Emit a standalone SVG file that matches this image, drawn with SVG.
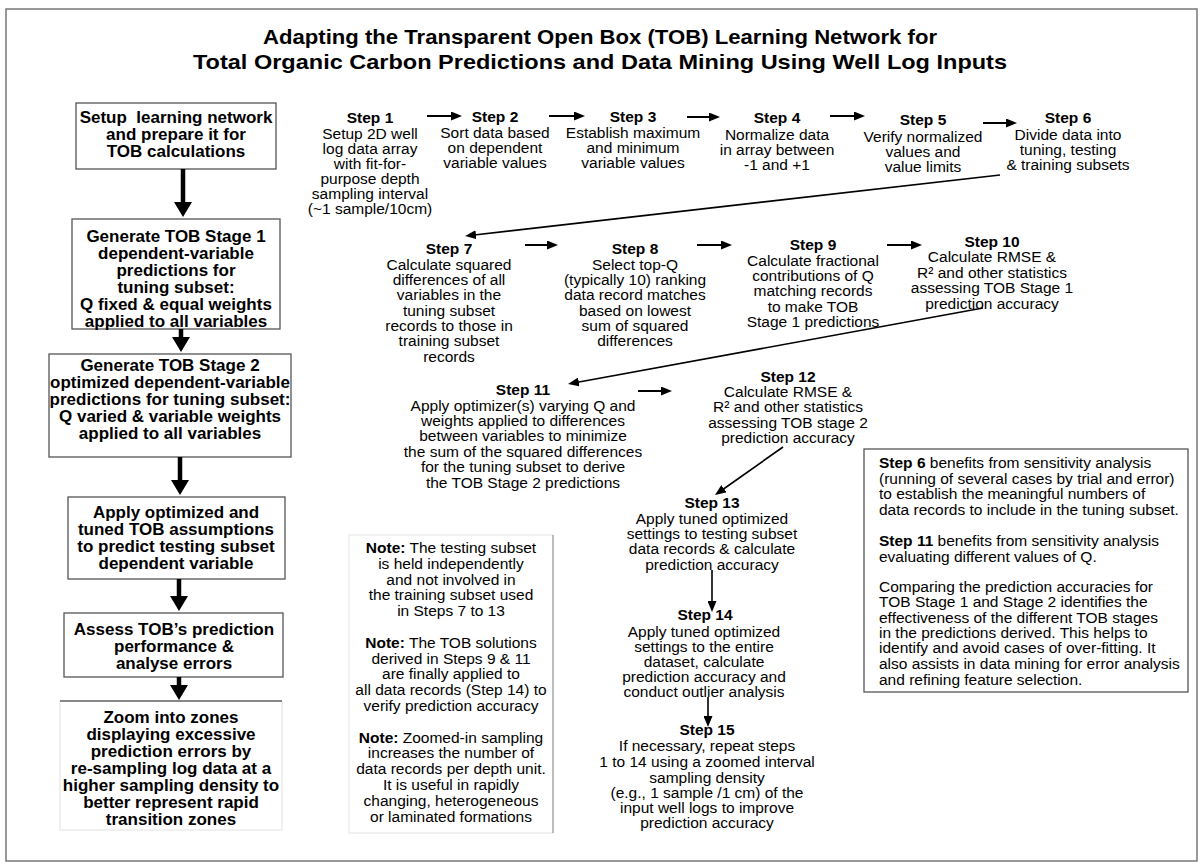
<svg xmlns="http://www.w3.org/2000/svg" width="1202" height="867" viewBox="0 0 1202 867">
<style>
.frame{fill:#fff;stroke:#777;stroke-width:1.5}
.box{fill:#fff;stroke:#555;stroke-width:1.3}
.t{font-family:"Liberation Sans",Arial,sans-serif;fill:#000}
.ttl{font-size:21px;font-weight:bold;text-anchor:middle}
.bt{font-size:17px;font-weight:bold;text-anchor:middle}
.st{font-size:15.5px;text-anchor:middle}
.sh{font-weight:bold}
.rt{font-size:15.5px}
.arr{stroke:#000;stroke-width:2;fill:none;marker-end:url(#ah)}
.diag{stroke:#000;stroke-width:1.6;fill:none;marker-end:url(#ah)}
.big{stroke:#000;stroke-width:4.5;fill:none;marker-end:url(#bh)}
</style>
<defs>
<marker id="ah" markerUnits="userSpaceOnUse" markerWidth="11" markerHeight="9" refX="4" refY="4.5" orient="auto"><path d="M0,0 L11,4.5 L0,9 z" fill="#000"/></marker>
<marker id="bh" markerUnits="userSpaceOnUse" markerWidth="15" markerHeight="18" refX="5" refY="9" orient="auto"><path d="M0,0 L15,9 L0,18 z" fill="#000"/></marker>
</defs>
<rect x="0" y="0" width="1202" height="867" fill="#fff"/>
<rect class="frame" x="6" y="9" width="1191" height="852"/>
<g id="title" class="t ttl">
<text x="600" y="44" textLength="674" lengthAdjust="spacingAndGlyphs">Adapting the Transparent Open Box (TOB) Learning Network for</text>
<text x="600" y="69" textLength="814" lengthAdjust="spacingAndGlyphs">Total Organic Carbon Predictions and Data Mining Using Well Log Inputs</text>
</g>

<g id="box1"><rect class="box" x="76" y="103" width="200" height="66"/>
<text class="t bt" xml:space="preserve"><tspan x="176" y="123">Setup  learning network</tspan><tspan x="176" y="140">and prepare it for</tspan><tspan x="176" y="157">TOB calculations</tspan></text></g>
<g id="box2"><rect class="box" x="72" y="219" width="208" height="110"/>
<text class="t bt"><tspan x="176" y="242">Generate TOB Stage 1</tspan><tspan x="176" y="259">dependent-variable</tspan><tspan x="176" y="276">predictions for</tspan><tspan x="176" y="293">tuning subset:</tspan><tspan x="176" y="310">Q fixed &amp; equal weights</tspan><tspan x="176" y="327">applied to all variables</tspan></text></g>
<g id="box3"><rect class="box" x="49" y="354" width="242" height="103"/>
<text class="t bt"><tspan x="170" y="371">Generate TOB Stage 2</tspan><tspan x="170" y="388">optimized dependent-variable</tspan><tspan x="170" y="405">predictions for tuning subset:</tspan><tspan x="170" y="422">Q varied &amp; variable weights</tspan><tspan x="170" y="439">applied to all variables</tspan></text></g>
<g id="box4"><rect class="box" x="68" y="497" width="217" height="82"/>
<text class="t bt"><tspan x="176" y="518">Apply optimized and</tspan><tspan x="176" y="535">tuned TOB assumptions</tspan><tspan x="176" y="552">to predict testing subset</tspan><tspan x="176" y="569">dependent variable</tspan></text></g>
<g id="box5"><rect class="box" x="64" y="613" width="219" height="64"/>
<text class="t bt"><tspan x="174" y="635">Assess TOB’s prediction</tspan><tspan x="174" y="652">performance &amp;</tspan><tspan x="174" y="669">analyse errors</tspan></text></g>
<g id="box6"><rect x="60" y="701" width="222" height="129" fill="#fff" stroke="#e2e2e2" stroke-width="1"/><line x1="60" y1="701" x2="282" y2="701" stroke="#666" stroke-width="1.3"/>
<text class="t bt"><tspan x="171" y="723">Zoom into zones</tspan><tspan x="171" y="740">displaying excessive</tspan><tspan x="171" y="757">prediction errors by</tspan><tspan x="171" y="774">re-sampling log data at a</tspan><tspan x="171" y="791">higher sampling density to</tspan><tspan x="171" y="808">better represent rapid</tspan><tspan x="171" y="825">transition zones</tspan></text></g>

<g id="step1"><text class="t st"><tspan class="sh" x="370" y="123">Step 1</tspan><tspan x="370" y="139">Setup 2D well</tspan><tspan x="370" y="154">log data array</tspan><tspan x="370" y="169">with fit-for-</tspan><tspan x="370" y="184">purpose depth</tspan><tspan x="370" y="199">sampling interval</tspan><tspan x="370" y="214">(~1 sample/10cm)</tspan></text></g>
<g id="step2"><text class="t st"><tspan class="sh" x="495" y="122">Step 2</tspan><tspan x="495" y="138">Sort data based</tspan><tspan x="495" y="153">on dependent</tspan><tspan x="495" y="168">variable values</tspan></text></g>
<g id="step3"><text class="t st"><tspan class="sh" x="633" y="122">Step 3</tspan><tspan x="633" y="138">Establish maximum</tspan><tspan x="633" y="153">and minimum</tspan><tspan x="633" y="168">variable values</tspan></text></g>
<g id="step4"><text class="t st"><tspan class="sh" x="777" y="123">Step 4</tspan><tspan x="777" y="140">Normalize data</tspan><tspan x="777" y="155">in array between</tspan><tspan x="777" y="170">-1 and +1</tspan></text></g>
<g id="step5"><text class="t st"><tspan class="sh" x="923" y="125">Step 5</tspan><tspan x="923" y="142">Verify normalized</tspan><tspan x="923" y="157">values and</tspan><tspan x="923" y="172">value limits</tspan></text></g>
<g id="step6"><text class="t st"><tspan class="sh" x="1068" y="123">Step 6</tspan><tspan x="1068" y="140">Divide data into</tspan><tspan x="1068" y="155">tuning, testing</tspan><tspan x="1068" y="170">&amp; training subsets</tspan></text></g>

<g id="step7"><text class="t st"><tspan class="sh" x="449" y="254">Step 7</tspan><tspan x="449" y="270">Calculate squared</tspan><tspan x="449" y="285">differences of all</tspan><tspan x="449" y="300">variables in the</tspan><tspan x="449" y="316">tuning subset</tspan><tspan x="449" y="331">records to those in</tspan><tspan x="449" y="346">training subset</tspan><tspan x="449" y="362">records</tspan></text></g>
<g id="step8"><text class="t st"><tspan class="sh" x="635" y="254">Step 8</tspan><tspan x="635" y="270">Select top-Q</tspan><tspan x="635" y="285">(typically 10) ranking</tspan><tspan x="635" y="300">data record matches</tspan><tspan x="635" y="316">based on lowest</tspan><tspan x="635" y="331">sum of squared</tspan><tspan x="635" y="346">differences</tspan></text></g>
<g id="step9"><text class="t st"><tspan class="sh" x="813" y="250">Step 9</tspan><tspan x="813" y="266">Calculate fractional</tspan><tspan x="813" y="281">contributions of Q</tspan><tspan x="813" y="296">matching records</tspan><tspan x="813" y="312">to make TOB</tspan><tspan x="813" y="327">Stage 1 predictions</tspan></text></g>
<g id="step10"><text class="t st"><tspan class="sh" x="992" y="247">Step 10</tspan><tspan x="992" y="262">Calculate RMSE &amp;</tspan><tspan x="992" y="278">R² and other statistics</tspan><tspan x="992" y="293">assessing TOB Stage 1</tspan><tspan x="992" y="309">prediction accuracy</tspan></text></g>

<g id="step11"><text class="t st"><tspan class="sh" x="523" y="395">Step 11</tspan><tspan x="523" y="411">Apply optimizer(s) varying Q and</tspan><tspan x="523" y="426">weights applied to differences</tspan><tspan x="523" y="441">between variables to minimize</tspan><tspan x="523" y="457">the sum of the squared differences</tspan><tspan x="523" y="472">for the tuning subset to derive</tspan><tspan x="523" y="488">the TOB Stage 2 predictions</tspan></text></g>
<g id="step12"><text class="t st"><tspan class="sh" x="788" y="382">Step 12</tspan><tspan x="788" y="397">Calculate RMSE &amp;</tspan><tspan x="788" y="412">R² and other statistics</tspan><tspan x="788" y="428">assessing TOB stage 2</tspan><tspan x="788" y="443">prediction accuracy</tspan></text></g>
<g id="step13"><text class="t st"><tspan class="sh" x="712" y="508">Step 13</tspan><tspan x="712" y="524">Apply tuned optimized</tspan><tspan x="712" y="539">settings to testing subset</tspan><tspan x="712" y="554">data records &amp; calculate</tspan><tspan x="712" y="570">prediction accuracy</tspan></text></g>
<g id="step14"><text class="t st"><tspan class="sh" x="705" y="620">Step 14</tspan><tspan x="704" y="637">Apply tuned optimized</tspan><tspan x="704" y="652">settings to the entire</tspan><tspan x="704" y="667">dataset, calculate</tspan><tspan x="704" y="682">prediction accuracy and</tspan><tspan x="704" y="697">conduct outlier analysis</tspan></text></g>
<g id="step15"><text class="t st"><tspan class="sh" x="707" y="735">Step 15</tspan><tspan x="707" y="751">If necessary, repeat steps</tspan><tspan x="707" y="767">1 to 14 using a zoomed interval</tspan><tspan x="707" y="783">sampling density</tspan><tspan x="707" y="798">(e.g., 1 sample /1 cm) of the</tspan><tspan x="707" y="813">input well logs to improve</tspan><tspan x="707" y="828">prediction accuracy</tspan></text></g>

<g id="notes"><rect x="349" y="535" width="204" height="298" fill="#fff" stroke="#e4e4e4" stroke-width="1"/><line x1="553" y1="535" x2="553" y2="833" stroke="#999" stroke-width="1.2"/>
<text class="t st"><tspan x="451" y="553"><tspan class="sh">Note:</tspan> The testing subset</tspan><tspan x="451" y="569">is held independently</tspan><tspan x="451" y="585">and not involved in</tspan><tspan x="451" y="600">the training subset used</tspan><tspan x="451" y="616">in Steps 7 to 13</tspan><tspan x="451" y="648"><tspan class="sh">Note:</tspan> The TOB solutions</tspan><tspan x="451" y="664">derived in Steps 9 &amp; 11</tspan><tspan x="451" y="679">are finally applied to</tspan><tspan x="451" y="695">all data records (Step 14) to</tspan><tspan x="451" y="711">verify prediction accuracy</tspan><tspan x="451" y="743"><tspan class="sh">Note:</tspan> Zoomed-in sampling</tspan><tspan x="451" y="758">increases the number of</tspan><tspan x="451" y="774">data records per depth unit.</tspan><tspan x="451" y="790">It is useful in rapidly</tspan><tspan x="451" y="806">changing, heterogeneous</tspan><tspan x="451" y="822">or laminated formations</tspan></text></g>

<g id="sidebox"><rect class="box" x="864" y="449" width="324" height="243" stroke="#666"/>
<text class="t rt"><tspan x="879" y="468"><tspan class="sh">Step 6</tspan> benefits from sensitivity analysis</tspan><tspan x="879" y="484">(running of several cases by trial and error)</tspan><tspan x="879" y="499">to establish the meaningful numbers of</tspan><tspan x="879" y="515">data records to include in the tuning subset.</tspan><tspan x="879" y="546"><tspan class="sh">Step 11</tspan> benefits from sensitivity analysis</tspan><tspan x="879" y="562">evaluating different values of Q.</tspan><tspan x="879" y="592">Comparing the prediction accuracies for</tspan><tspan x="879" y="607">TOB Stage 1 and Stage 2 identifies the</tspan><tspan x="879" y="623">effectiveness of the different TOB stages</tspan><tspan x="879" y="638">in the predictions derived. This helps to</tspan><tspan x="879" y="653">identify and avoid cases of over-fitting. It</tspan><tspan x="879" y="669">also assists in data mining for error analysis</tspan><tspan x="879" y="685">and refining feature selection.</tspan></text></g>

<g id="connectors">
<path class="big" d="M183,169 L183,207"/>
<path class="big" d="M181,329 L181,342"/>
<path class="big" d="M180,457 L180,485"/>
<path class="big" d="M179,579 L179,601"/>
<path class="big" d="M179,677 L179,690"/>
<path class="arr" d="M427,116 L455,116"/>
<path class="arr" d="M549,116 L578,116"/>
<path class="arr" d="M687,117 L713,117"/>
<path class="arr" d="M830,116 L858,116"/>
<path class="arr" d="M983,123 L1010,123"/>
<path class="diag" d="M1000,175 L472,235.2"/>
<path class="arr" d="M525,245 L551,245"/>
<path class="arr" d="M697,245 L725,245"/>
<path class="arr" d="M887,245 L915,245"/>
<path class="diag" d="M983,308 L574.9,382.7"/>
<path class="arr" d="M638,391 L665,391"/>
<path class="diag" d="M783,447 L720.7,491"/>
<path class="diag" d="M712,570 L712,605"/>
<path class="diag" d="M708,697 L708,720"/>
</g>
</svg>
